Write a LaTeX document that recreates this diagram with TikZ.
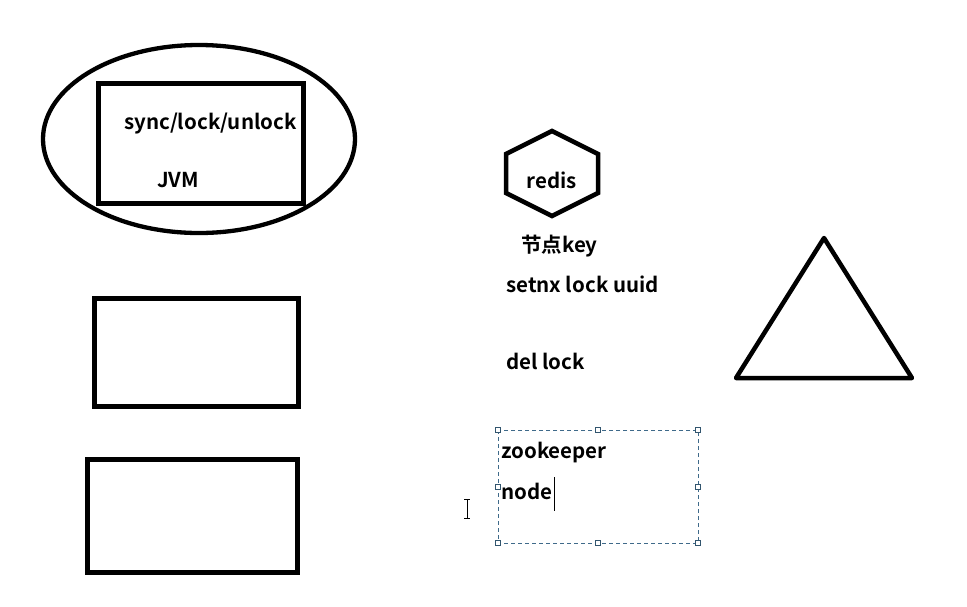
\documentclass[tikz,border=0pt]{standalone}
\usepackage{fontspec}
\setmainfont{Noto Sans CJK SC}[BoldFont={Noto Sans CJK SC Bold}]
\usetikzlibrary{shapes.geometric}
\definecolor{selblue}{HTML}{3F6A8A}
\tikzset{
  thick line/.style={line width=5pt, draw=black},
  lbl/.style={font=\fontsize{20.5}{24}\selectfont\bfseries, inner sep=0pt, anchor=west},
  handle/.style={draw=selblue!80!black, fill=white, line width=0.8pt, minimum size=5pt, inner sep=0pt, rectangle}
}
\begin{document}
\begin{tikzpicture}[x=1pt,y=-1pt]
\useasboundingbox (0,0) rectangle (967,606);
\fill[white] (0,0) rectangle (967,606);
% ellipse and JVM box
\draw[line width=4.3pt] (199,139) ellipse [x radius=156, y radius=94];
\begin{scope}
\clip (98,83) rectangle (303,203);
\node[lbl] (sync) at (124,124) {sync/lock/unlock};
\end{scope}
\node[lbl] (jvm) at (157,180) {JVM};
\draw[thick line] (98,83) rectangle (303,203);
% empty boxes
\draw[thick line] (94,298) rectangle (298,406);
\draw[thick line] (87,459) rectangle (297,572);
% hexagon
\draw[line width=4.5pt, line join=miter] (552,131) -- (598,154) -- (598,193) -- (552,216) -- (506,193) -- (506,154) -- cycle;
\node[font=\fontsize{20.5}{24}\selectfont\bfseries, inner sep=0pt] (redis) at (552,180) {redis};
% redis texts
\node[lbl] (key) at (521,246) {节点key};
\node[lbl] (setnx) at (506,284) {setnx lock uuid};
\node[lbl] (del) at (506,361) {del lock};
% triangle
\draw[line width=4.5pt, line join=round, line cap=round] (824,238) -- (912,378) -- (736,378) -- cycle;
% zookeeper selection box
\draw[selblue, line width=1pt, dash pattern=on 4pt off 3pt] (498,430) rectangle (698,543);
\foreach \p in {(498,430),(598,430),(698,430),(498,487),(698,487),(498,543),(598,543),(698,543)}
  \node[handle] at \p {};
\node[lbl] (zk) at (501,453) {zookeeper};
\node[lbl] (nd) at (501,491) {node};
\draw[line width=1pt] (554,477) -- (554,511);
% I-beam cursor
\draw[line width=1pt] (467,499) -- (467,518) (464,499) -- (470,499) (464,518) -- (470,518);
\end{tikzpicture}
\end{document}
